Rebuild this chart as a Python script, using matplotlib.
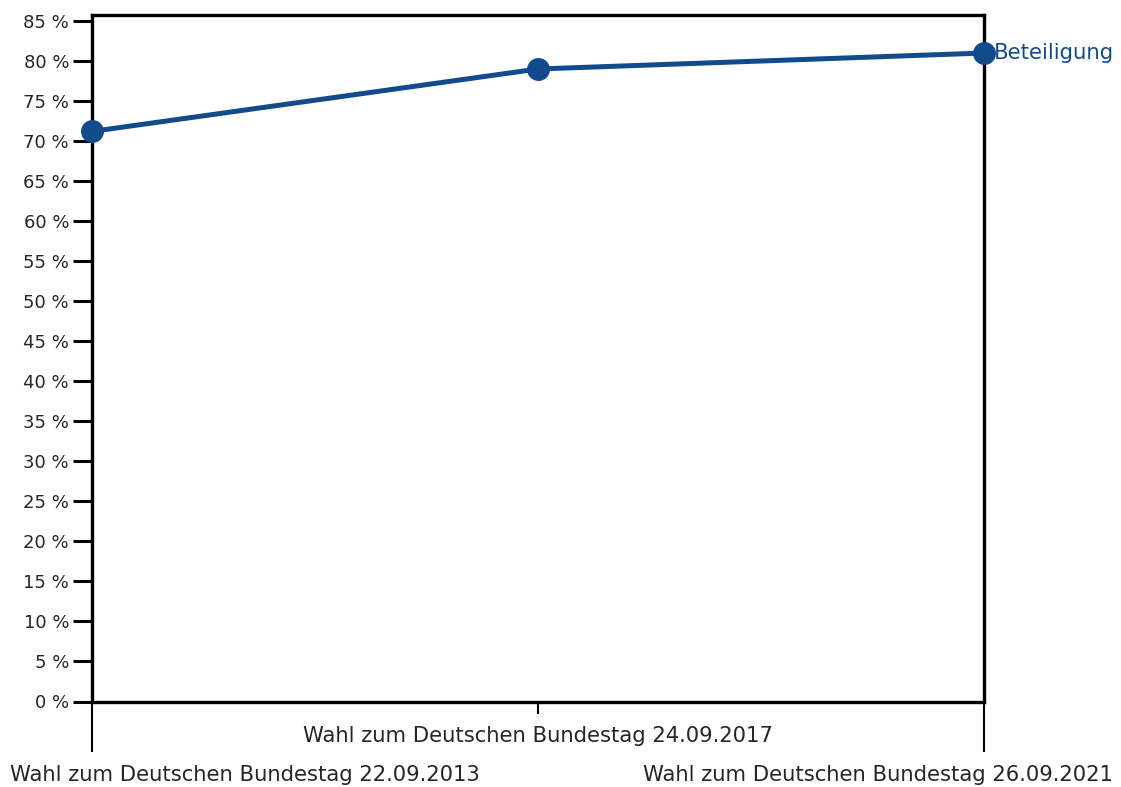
import matplotlib
matplotlib.use("Agg")
import matplotlib.pyplot as plt

categories = ["Wahl zum Deutschen Bundestag 22.09.2013",
              "Wahl zum Deutschen Bundestag 24.09.2017",
              "Wahl zum Deutschen Bundestag 26.09.2021"]
beteiligung = [71.25, 79.05, 81.05]
series_name = "Beteiligung"
y_ticks = list(range(0, 90, 5))
y_tick_labels = [f"{v} %" for v in y_ticks]

plt.rcParams['font.family'] = ['DejaVu Sans']
blue = "#124b8c"
txt = "#262626"

W, H = 1121, 787
fig = plt.figure(figsize=(W / 100, H / 100), dpi=100)
left, right, bottom, top = 92, 984, 701.5, 15
ax = fig.add_axes([left / W, (H - bottom) / H, (right - left) / W, (bottom - top) / H])

x = list(range(len(categories)))
ax.plot(x, beteiligung, color=blue, lw=3.6, marker='o', markersize=15.5,
        clip_on=False, zorder=5)
ax.set_xlim(0, 2)
ax.set_ylim(0, 85.8)

ax.set_yticks(y_ticks)
ax.set_yticklabels(y_tick_labels, fontsize=13, color=txt)
ax.tick_params(axis='y', direction='out', length=13.5, width=2.2, pad=3, color='black')

# middle category: short tick with label; outer categories: long minor ticks
ax.set_xticks([x[1]])
ax.set_xticklabels([categories[1]], fontsize=15.2, color=txt)
ax.set_xticks([x[0], x[2]], minor=True)
ax.tick_params(axis='x', which='major', direction='out', length=8.5, width=1.5,
               pad=9, color='black')
ax.tick_params(axis='x', which='minor', direction='out', length=36, width=1.5,
               color='black')

for s in ax.spines.values():
    s.set_linewidth(2.4)
    s.set_color('black')

fig.text(10 / W, 1 - 775 / H, categories[0], ha='left', va='center',
         fontsize=15.2, color=txt)
fig.text(1113 / W, 1 - 775 / H, categories[2], ha='right', va='center',
         fontsize=15.2, color=txt)

ax.annotate(series_name, xy=(x[-1], beteiligung[-1]), xytext=(7, 0),
            textcoords='offset points', ha='left', va='center',
            fontsize=15.3, color=blue, annotation_clip=False)

fig.savefig("out.png", dpi=100, facecolor='white')
